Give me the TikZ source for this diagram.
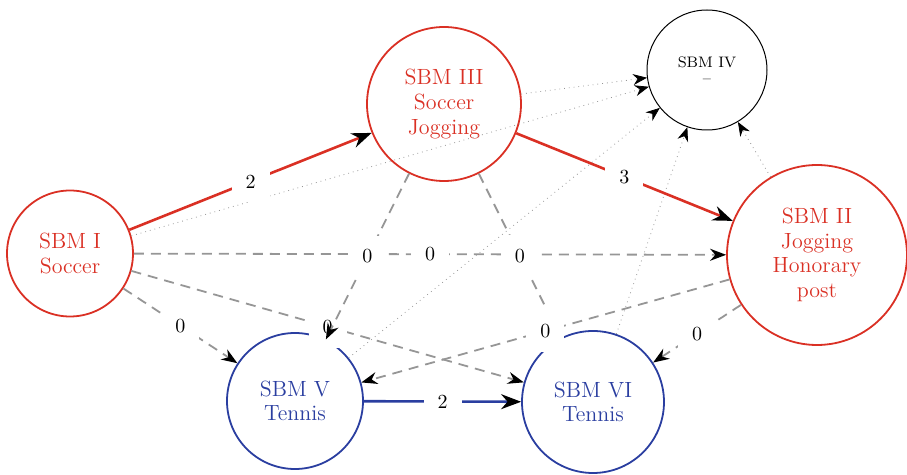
\documentclass[tikz,border=0pt]{standalone}
\usetikzlibrary{arrows.meta}
\definecolor{sbmred}{RGB}{218,48,36}
\definecolor{sbmblue}{RGB}{42,62,160}
\definecolor{sbmgray}{RGB}{150,150,150}
\begin{document}
\begin{tikzpicture}[x=0.5pt,y=-0.5pt, % pixel grid of 907x475
   sbm/.style={circle,draw,align=center,inner sep=0pt,font=\fontsize{11}{12.3}\selectfont},
   redsbm/.style={sbm,draw=sbmred,text=sbmred,line width=0.9pt},
   bluesbm/.style={sbm,draw=sbmblue,text=sbmblue,line width=0.9pt},
   tip/.style={-{Stealth[length=8pt,width=6pt,black]}},
   strong/.style={-{Stealth[length=10pt,width=7.5pt,black]},line width=1.3pt},
   zero/.style={tip,sbmgray,line width=0.9pt,dash pattern=on 5pt off 3.5pt},
   faint/.style={-{Stealth[length=7pt,width=5.5pt,black]},sbmgray,line width=0.4pt,dotted},
   lab/.style={midway,fill=white,text=black,inner sep=7pt,font=\fontsize{10}{12}\selectfont}]
   \useasboundingbox (0,0) rectangle (907,475);
   \node[redsbm,minimum size=63pt] (one) at (70,253.5) {SBM I\\Soccer};
   \node[redsbm,minimum size=77pt] (three) at (444,104) {SBM III\\Soccer\\Jogging};
   \node[sbm,line width=0.5pt,minimum size=60pt,font=\fontsize{7.6}{7.8}\selectfont] (four) at (707,70) {SBM IV\\--};
   \node[redsbm,minimum size=90pt] (two) at (817,255) {SBM II\\Jogging\\Honorary\\post};
   \node[bluesbm,minimum size=68pt] (five) at (295,401) {SBM V\\Tennis};
   \node[bluesbm,minimum size=71pt] (six) at (593,402) {SBM VI\\Tennis};
   % dotted ones into SBM IV
   \draw[faint] (one) -- (four);
   \draw[faint] (three) -- (four);
   \draw[faint] (five) -- (four);
   \draw[faint] (six) -- (four);
   \draw[faint] (two) -- (four);
   % dashed ones
   \draw[zero] (one) -- (two) node[lab] {0};
   \draw[zero] (one) -- (five) node[lab] {0};
   \draw[zero] (one) -- (six) node[lab] {0};
   \draw[zero] (three) -- (five) node[lab] {0};
   \draw[zero] (three) -- (six) node[lab] {0};
   \draw[zero] (two) -- (five) node[lab] {0};
   \draw[zero] (two) -- (six) node[lab] {0};
   % strong ones
   \draw[strong,sbmred] (one) -- (three) node[lab] {2};
   \draw[strong,sbmred] (three) -- (two) node[lab] {3};
   \draw[strong,sbmblue] (five) -- (six) node[lab] {2};
\end{tikzpicture}
\end{document}
